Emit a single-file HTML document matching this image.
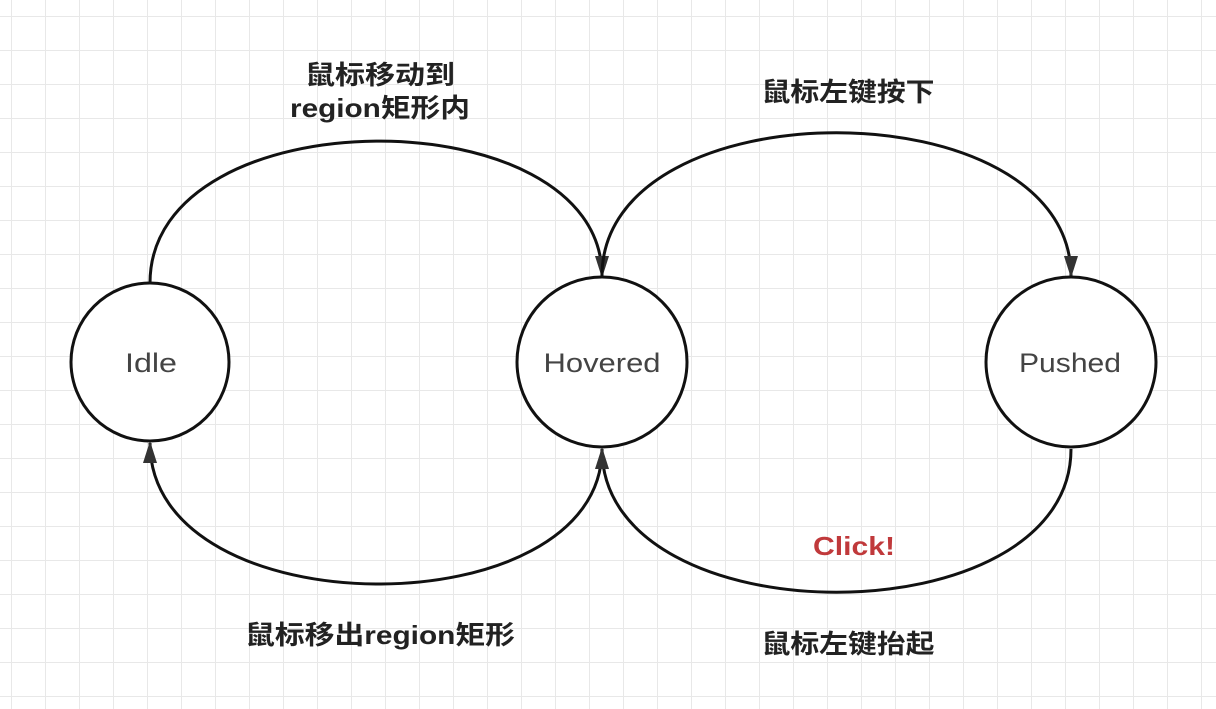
<!DOCTYPE html>
<html><head><meta charset="utf-8"><style>
body{margin:0;width:1216px;height:709px;overflow:hidden;background:#fff;
background-image:linear-gradient(#e8e8e8 1px,transparent 1px),linear-gradient(90deg,#e8e8e8 1px,transparent 1px);
background-size:34px 34px;background-position:11px 16px;}
svg{position:absolute;left:0;top:0}
</style></head><body>
<svg width="1216" height="709" viewBox="0 0 1216 709">
<defs><marker id="a" markerWidth="22" markerHeight="14" refX="20" refY="7" orient="auto" markerUnits="userSpaceOnUse">
<path d="M0,0 L22,7 L0,14 Z" fill="#333"/></marker></defs>
<g fill="none" stroke="#111" stroke-width="3">
<path d="M150,283 C150,95 602,95 602,276" marker-end="url(#a)"/>
<path d="M602,276 C602,85 1071,85 1071,276" marker-end="url(#a)"/>
<path d="M602,449 C602,630 150,630 150,443" marker-end="url(#a)"/>
<path d="M1071,449 C1071,640 602,640 602,449" marker-end="url(#a)"/>
</g>
<g fill="#fff" stroke="#111" stroke-width="3">
<circle cx="150" cy="362" r="79"/>
<circle cx="602" cy="362" r="85"/>
<circle cx="1071" cy="362" r="85"/>
</g>
<g font-family="Liberation Sans, Noto Sans CJK SC, sans-serif" font-size="27" fill="#444" text-anchor="middle" lengthAdjust="spacingAndGlyphs">
<text x="151" y="372" textLength="52" lengthAdjust="spacingAndGlyphs">Idle</text>
<text x="602" y="372" textLength="117" lengthAdjust="spacingAndGlyphs">Hovered</text>
<text x="1070" y="372" textLength="102" lengthAdjust="spacingAndGlyphs">Pushed</text>
</g>
<g font-family="Liberation Sans, Noto Sans CJK SC, sans-serif" font-size="26" font-weight="bold" fill="#222" text-anchor="middle">
<text x="380" y="84" textLength="150" lengthAdjust="spacingAndGlyphs">鼠标移动到</text>
<text x="380" y="117" textLength="180" lengthAdjust="spacingAndGlyphs">region矩形内</text>
<text x="848" y="101" textLength="173" lengthAdjust="spacingAndGlyphs">鼠标左键按下</text>
<text x="380" y="644" textLength="270" lengthAdjust="spacingAndGlyphs">鼠标移出region矩形</text>
<text x="848" y="653" textLength="173" lengthAdjust="spacingAndGlyphs">鼠标左键抬起</text>
<text x="854" y="555" fill="#c0393b" textLength="82" lengthAdjust="spacingAndGlyphs">Click!</text>
</g>
</svg>
</body></html>
